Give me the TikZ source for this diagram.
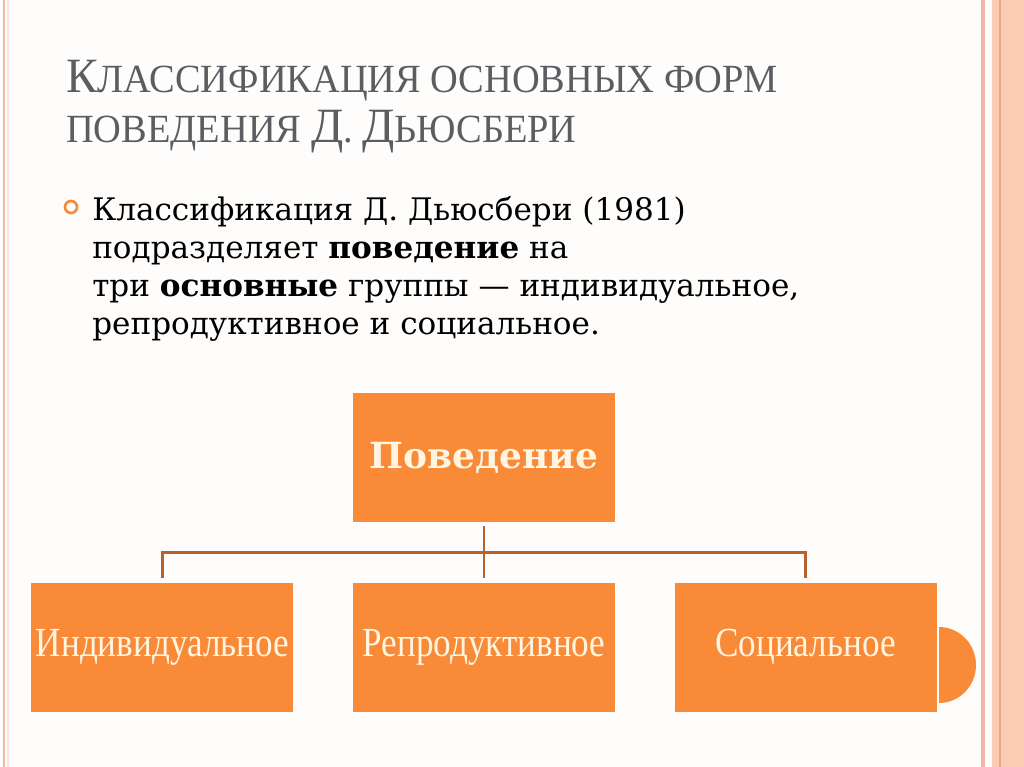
\documentclass[tikz,border=0pt]{standalone}
\usepackage{fontspec}
\setmainfont{DejaVu Serif}
\newfontfamily\ttlfont{Liberation Serif}
\usetikzlibrary{positioning,calc}
\definecolor{slideorange}{HTML}{F98A38}
\definecolor{linkbrown}{HTML}{B5622C}
\definecolor{framepink}{HTML}{F0B9A4}
\definecolor{bandpeach}{HTML}{FCCCB2}
\definecolor{banddark}{HTML}{E9A584}
\definecolor{titlegray}{HTML}{5A5E63}
\definecolor{labelcream}{HTML}{FFF5E1}
\definecolor{slidebg}{HTML}{FEFDFB}
\newcommand{\ttlbig}{\fontsize{37}{37}\selectfont}
\tikzset{
  catbox/.style={fill=slideorange, minimum width=196.5pt, minimum height=96.75pt,
    inner sep=0pt, text=labelcream},
  sublabel/.style={catbox, font=\ttlfont\fontsize{31}{31}\selectfont},
  link/.style={draw=linkbrown, line width=2.2pt, shorten <=3pt, shorten >=3pt},
}

\begin{document}
\begin{tikzpicture}[x=0.75pt,y=-0.75pt]
\useasboundingbox (0,0) rectangle (1024,767);
\fill[slidebg] (0,0) rectangle (1024,767);

% frame
\draw[framepink, line width=1.6pt] (4,0) -- (4,767);
\draw[framepink!40, line width=1pt] (8,0) -- (8,767);
\draw[framepink, line width=2.4pt] (983,0) -- (983,767);
\fill[bandpeach] (992,0) rectangle (1024,767);
\draw[banddark, line width=1pt] (1000,0) -- (1000,767);
\draw[banddark!60, line width=0.6pt] (1004,0) -- (1004,767);

% title
\node[anchor=north west, inner sep=0pt, align=left, text=titlegray,
  font=\ttlfont\fontsize{30}{37.5}\selectfont] (title) at (66,60)
  {\scalebox{0.96}[1]{{\ttlbig К}ЛАССИФИКАЦИЯ ОСНОВНЫХ ФОРМ}\\
   \scalebox{0.96}[1]{ПОВЕДЕНИЯ {\ttlbig Д}. {\ttlbig Д}ЬЮСБЕРИ}};

% bullet
\node[circle, draw=slideorange, line width=2pt, minimum size=9pt, inner sep=0pt] (dot) at (71,207) {};
\node[anchor=north west, inner sep=0pt, align=left,
  font=\fontsize{23.3}{28.5}\selectfont] (intro) at (92,196)
  {Классификация Д. Дьюсбери (1981)\\
   подразделяет \textbf{поведение} на\\
   три \textbf{основные} группы — индивидуальное,\\
   репродуктивное и социальное.};

% tree
\node[catbox, font=\bfseries\fontsize{27}{27}\selectfont] (beh) at (484,457.5) {Поведение};
\node[sublabel, below=45pt of beh] (repr) {\scalebox{0.85}[1]{Репродуктивное}};
\node[sublabel, left=44.25pt of repr] (indiv) {\scalebox{0.85}[1]{Индивидуальное}};
\node[sublabel, right=44.25pt of repr] (soc) {\scalebox{0.85}[1]{Социальное}};

\coordinate (bus) at ($(beh.south)!0.5!(repr.north)$);
\draw[link] (beh.south) -- (repr.north);
\draw[link] (indiv.north) |- (bus) -| (soc.north);

% half disc
\fill[slideorange] (939,627) arc[start angle=90, end angle=-90, x radius=27.75pt, y radius=28.5pt] -- cycle;
\end{tikzpicture}
\end{document}
